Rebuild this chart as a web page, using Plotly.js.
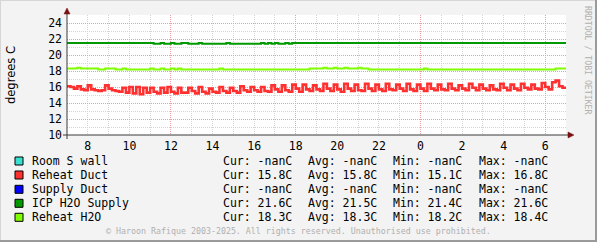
<!DOCTYPE html>
<html>
<head>
<meta charset="utf-8">
<script src="https://cdn.plot.ly/plotly-3.0.1.min.js"></script>
<style>
html,body{margin:0;padding:0;background:#f3f3f3;}
#chart{width:597px;height:242px;}
</style>
</head>
<body>
<div id="chart"></div>
<script>
// ---- data ----
const startHour = 7;          // first sample, 07:00
const stepMinutes = 10;       // sample spacing

const tickHours = [8, 10, 12, 14, 16, 18, 20, 22, 24, 26, 28, 30];
const tickLabels = ['8', '10', '12', '14', '16', '18', '20', '22', '0', '2', '4', '6'];
const majorHours = [12, 18, 24, 30];

const reheatDuct = [
  16.1, 16.0, 15.8, 16.1, 15.7, 15.6,
  16.2, 15.7, 15.6, 15.5, 15.6, 16.2,
  15.8, 15.6, 15.5, 15.4, 15.9, 15.3,
  16.0, 15.2, 16.0, 15.1, 15.9, 15.3,
  15.9, 15.4, 15.2, 15.9, 15.3, 16.0,
  15.4, 15.2, 15.9, 15.3, 15.3, 15.9,
  15.5, 15.2, 16.0, 15.4, 15.2, 15.8,
  15.4, 15.3, 16.0, 15.5, 15.3, 15.9,
  15.5, 15.3, 16.1, 15.6, 15.4, 16.0,
  15.6, 15.4, 16.0, 15.5, 15.4, 16.2,
  15.7, 15.4, 16.2, 15.6, 15.4, 16.3,
  15.8, 15.4, 16.3, 15.7, 15.5, 16.2,
  15.7, 15.5, 16.4, 15.8, 15.5, 16.3,
  15.7, 15.4, 16.4, 15.8, 15.5, 16.3,
  15.6, 15.5, 16.4, 15.8, 15.5, 16.3,
  15.7, 15.5, 16.4, 15.7, 15.6, 16.3,
  15.8, 15.5, 16.4, 15.7, 15.5, 16.3,
  15.8, 15.5, 16.4, 15.8, 15.6, 16.3,
  15.7, 15.6, 16.4, 15.8, 15.6, 16.2,
  15.8, 15.6, 16.4, 15.9, 15.6, 16.3,
  15.8, 15.6, 16.2, 15.7, 15.6, 16.4,
  15.9, 15.6, 16.3, 15.8, 15.6, 16.4,
  15.9, 15.7, 16.3, 15.8, 15.7, 16.5,
  16.0, 15.7, 16.6, 16.8, 16.1, 15.9,
  15.8
];

const icpSupply = [
  21.5, 21.5, 21.5, 21.5, 21.5, 21.5,
  21.5, 21.5, 21.5, 21.5, 21.5, 21.5,
  21.5, 21.5, 21.5, 21.5, 21.5, 21.5,
  21.5, 21.5, 21.5, 21.5, 21.5, 21.5,
  21.5, 21.4, 21.4, 21.5, 21.4, 21.4,
  21.5, 21.4, 21.4, 21.5, 21.5, 21.4,
  21.4, 21.4, 21.5, 21.4, 21.4, 21.4,
  21.4, 21.4, 21.4, 21.4, 21.5, 21.4,
  21.4, 21.4, 21.4, 21.4, 21.4, 21.4,
  21.4, 21.4, 21.5, 21.4, 21.5, 21.4,
  21.5, 21.4, 21.4, 21.5, 21.4, 21.5,
  21.5, 21.5, 21.5, 21.5, 21.5, 21.5,
  21.5, 21.5, 21.5, 21.5, 21.5, 21.5,
  21.5, 21.5, 21.5, 21.5, 21.5, 21.5,
  21.5, 21.5, 21.5, 21.5, 21.5, 21.5,
  21.5, 21.5, 21.5, 21.5, 21.5, 21.5,
  21.5, 21.5, 21.5, 21.5, 21.5, 21.5,
  21.5, 21.5, 21.5, 21.5, 21.5, 21.5,
  21.5, 21.5, 21.5, 21.5, 21.5, 21.5,
  21.5, 21.5, 21.5, 21.5, 21.5, 21.5,
  21.5, 21.5, 21.5, 21.5, 21.5, 21.5,
  21.5, 21.5, 21.5, 21.5, 21.5, 21.5,
  21.5, 21.5, 21.5, 21.5, 21.5, 21.5,
  21.5, 21.5, 21.5, 21.5, 21.5, 21.5,
  21.5
];

const reheatH2O = [
  18.3, 18.3, 18.3, 18.4, 18.3, 18.3,
  18.3, 18.3, 18.3, 18.2, 18.2, 18.3,
  18.3, 18.3, 18.2, 18.2, 18.3, 18.2,
  18.2, 18.2, 18.2, 18.2, 18.2, 18.2,
  18.3, 18.2, 18.2, 18.3, 18.2, 18.2,
  18.3, 18.2, 18.3, 18.2, 18.2, 18.2,
  18.2, 18.2, 18.2, 18.2, 18.2, 18.2,
  18.2, 18.2, 18.3, 18.2, 18.2, 18.2,
  18.2, 18.2, 18.2, 18.2, 18.2, 18.2,
  18.2, 18.2, 18.2, 18.2, 18.2, 18.2,
  18.2, 18.2, 18.2, 18.2, 18.2, 18.2,
  18.2, 18.2, 18.2, 18.2, 18.3, 18.3,
  18.3, 18.3, 18.4, 18.3, 18.3, 18.4,
  18.3, 18.3, 18.4, 18.3, 18.3, 18.3,
  18.4, 18.3, 18.3, 18.2, 18.2, 18.2,
  18.2, 18.2, 18.2, 18.2, 18.2, 18.2,
  18.2, 18.2, 18.2, 18.2, 18.2, 18.2,
  18.2, 18.3, 18.2, 18.2, 18.2, 18.2,
  18.2, 18.2, 18.2, 18.2, 18.2, 18.2,
  18.2, 18.2, 18.2, 18.2, 18.2, 18.2,
  18.2, 18.2, 18.2, 18.2, 18.2, 18.2,
  18.2, 18.2, 18.2, 18.2, 18.2, 18.2,
  18.2, 18.2, 18.2, 18.2, 18.2, 18.2,
  18.2, 18.2, 18.2, 18.3, 18.3, 18.3,
  18.2
];

const seriesNames = ['Room S wall', 'Reheat Duct', 'Supply Duct', 'ICP H2O Supply', 'Reheat H2O'];
const seriesColors = ['#3adfd0', '#ff3030', '#0000ff', '#009a00', '#80ff00'];
const curVals = ['-nanC', '15.8C', '-nanC', '21.6C', '18.3C'];
const avgVals = ['-nanC', '15.8C', '-nanC', '21.5C', '18.3C'];
const minVals = ['-nanC', '15.1C', '-nanC', '21.4C', '18.2C'];
const maxVals = ['-nanC', '16.8C', '-nanC', '21.6C', '18.4C'];

const yTitle = 'degrees C';
const watermark = 'RRDTOOL / TOBI OETIKER';
const copyright = '\u00a9 Haroon Rafique 2003-2025. All rights reserved. Unauthorised use prohibited.';

// ---- build ----
function hoursFor(arr) { return arr.map((_, i) => startHour + i * stepMinutes / 60); }

// plot area in pixels: x 67..566, y 15..135
const L = 67, R = 566, T = 15, B = 135;
const px = x => (x - L) / (R - L);
const py = y => (B - y) / (B - T);

const mono = 'DejaVu Sans Mono, monospace';

const traces = [
  {x: hoursFor(reheatH2O), y: reheatH2O, type: 'scatter', mode: 'lines', line: {color: seriesColors[4], width: 2, shape: 'hv'}, hoverinfo: 'skip'},
  {x: hoursFor(icpSupply), y: icpSupply, type: 'scatter', mode: 'lines', line: {color: seriesColors[3], width: 2, shape: 'hv'}, hoverinfo: 'skip'},
  {x: hoursFor(reheatDuct), y: reheatDuct, type: 'scatter', mode: 'lines', line: {color: seriesColors[1], width: 2.6, shape: 'hv'}, hoverinfo: 'skip'},
  {x: [], y: [], xaxis: 'x2', type: 'scatter', mode: 'lines', hoverinfo: 'skip'}
];

const gridDash = '1px,1px';
const annotations = [];
const shapes = [];

annotations.push({xref: 'paper', yref: 'paper', x: px(11), y: py(75), text: yTitle, textangle: -90,
  showarrow: false, xanchor: 'center', yanchor: 'middle',
  font: {family: 'DejaVu Sans, sans-serif', size: 11.5, color: '#000'}});
annotations.push({xref: 'paper', yref: 'paper', x: px(588), y: py(60), text: watermark, textangle: 90,
  showarrow: false, xanchor: 'center', yanchor: 'middle', font: {family: mono, size: 8.2, color: '#b0b0b0'}});
annotations.push({xref: 'paper', yref: 'paper', x: px(298.5), y: py(231), text: copyright,
  showarrow: false, xanchor: 'center', yanchor: 'middle', font: {family: mono, size: 8.3, color: '#b0b0b0'}});

const rowY = [161, 175, 189.3, 203.3, 217.3];
const colX = [221, 306, 391, 477];
const labelFont = {family: mono, size: 11.5, color: '#000'};
seriesNames.forEach((name, i) => {
  const yc = rowY[i];
  shapes.push({type: 'rect', xref: 'paper', yref: 'paper', x0: px(15), x1: px(23), y0: py(yc - 4), y1: py(yc + 4),
    fillcolor: seriesColors[i], line: {color: '#000', width: 1}});
  annotations.push({xref: 'paper', yref: 'paper', x: px(29.5), y: py(yc), text: name, showarrow: false,
    xanchor: 'left', yanchor: 'middle', font: labelFont});
  const cols = ['Cur: ' + curVals[i], 'Avg: ' + avgVals[i], 'Min: ' + minVals[i], 'Max: ' + maxVals[i]];
  cols.forEach((t, j) => {
    annotations.push({xref: 'paper', yref: 'paper', x: px(colX[j]), y: py(yc), text: t.replace(/ /g, '\u00a0'), showarrow: false,
      xanchor: 'left', yanchor: 'middle', font: labelFont});
  });
});

// axes lines + arrows
shapes.push({type: 'line', xref: 'paper', yref: 'paper', x0: px(63), x1: px(569), y0: py(135), y1: py(135), line: {color: '#3a3a3a', width: 1}});
shapes.push({type: 'line', xref: 'paper', yref: 'paper', x0: px(67), x1: px(67), y0: py(139), y1: py(12), line: {color: '#3a3a3a', width: 1}});
shapes.push({type: 'path', xref: 'paper', yref: 'paper',
  path: `M ${px(568)} ${py(132)} L ${px(574)} ${py(135)} L ${px(568)} ${py(138)} Z`, fillcolor: '#7a1010', line: {color: '#7a1010', width: 0.5}});
shapes.push({type: 'path', xref: 'paper', yref: 'paper',
  path: `M ${px(64)} ${py(14)} L ${px(67)} ${py(8)} L ${px(70)} ${py(14)} Z`, fillcolor: '#7a1010', line: {color: '#7a1010', width: 0.5}});
// frame
shapes.push({type: 'line', xref: 'paper', yref: 'paper', x0: px(0), x1: px(597), y0: py(0.5), y1: py(0.5), line: {color: '#d6d6d6', width: 1}});
shapes.push({type: 'line', xref: 'paper', yref: 'paper', x0: px(0.5), x1: px(0.5), y0: py(0), y1: py(242), line: {color: '#d6d6d6', width: 1}});
shapes.push({type: 'line', xref: 'paper', yref: 'paper', x0: px(0), x1: px(597), y0: py(241), y1: py(241), line: {color: '#9a9a9a', width: 2}});
shapes.push({type: 'line', xref: 'paper', yref: 'paper', x0: px(596), x1: px(596), y0: py(0), y1: py(242), line: {color: '#9a9a9a', width: 2}});

const layout = {
  width: 597, height: 242,
  margin: {l: L, r: 597 - R, t: T, b: 242 - B, pad: 0},
  paper_bgcolor: '#f3f3f3', plot_bgcolor: '#ffffff',
  showlegend: false,
  xaxis: {
    range: [7, 31], tickmode: 'array', tickvals: tickHours, ticktext: tickLabels,
    showgrid: true, gridcolor: '#d4d4d4', griddash: gridDash, gridwidth: 1,
    minor: {tickmode: 'linear', tick0: 0, dtick: 1, showgrid: true, gridcolor: '#d4d4d4', griddash: gridDash, gridwidth: 1},
    zeroline: false, showline: false, ticks: '', fixedrange: true, ticklabelstandoff: 2,
    tickfont: {family: mono, size: 11.5, color: '#000'}
  },
  xaxis2: {
    overlaying: 'x', anchor: 'y', range: [7, 31], tickmode: 'array', tickvals: majorHours,
    showticklabels: false, showgrid: true, gridcolor: '#eaa0a0', griddash: gridDash, gridwidth: 1,
    zeroline: false, showline: false, ticks: '', fixedrange: true
  },
  yaxis: {
    range: [10, 25], tickmode: 'linear', tick0: 10, dtick: 2,
    showgrid: true, gridcolor: '#eaa0a0', griddash: gridDash, gridwidth: 1,
    minor: {tickmode: 'linear', tick0: 10, dtick: 1, showgrid: true, gridcolor: '#d4d4d4', griddash: gridDash, gridwidth: 1},
    zeroline: false, showline: false, ticks: '', fixedrange: true, ticklabelstandoff: 4,
    tickfont: {family: mono, size: 11.5, color: '#000'}
  },
  annotations: annotations,
  shapes: shapes
};

Plotly.newPlot('chart', traces, layout, {staticPlot: true, displayModeBar: false});
</script>
</body>
</html>
